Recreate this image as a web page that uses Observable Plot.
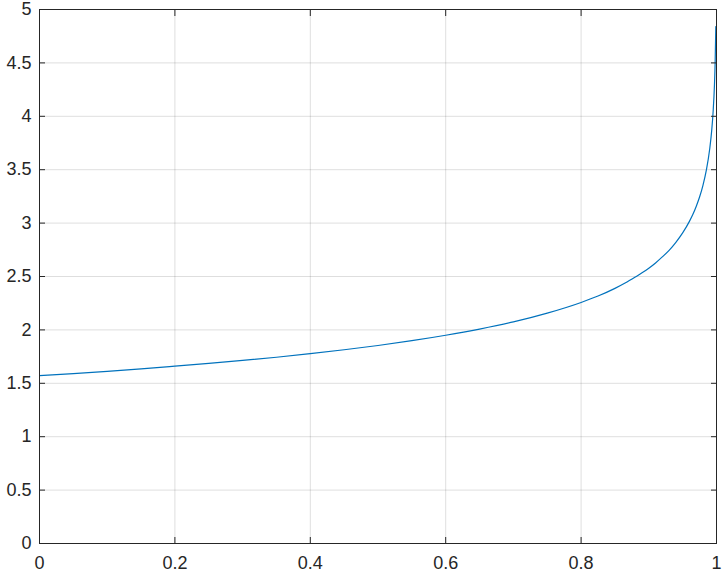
<!DOCTYPE html>
<html>
<head>
<meta charset="utf-8">
<script src="https://cdn.jsdelivr.net/npm/d3@7"></script>
<script src="https://cdn.jsdelivr.net/npm/@observablehq/plot@0.6"></script>
<style>
  html, body { margin: 0; padding: 0; background: #fff; }
  #chart { width: 724px; height: 575px; }
</style>
</head>
<body>
<div id="chart"></div>
<script>
const xValues = [0, 0.05, 0.1, 0.15, 0.2, 0.25, 0.3, 0.35, 0.4, 0.45, 0.5, 0.55, 0.6, 0.65, 0.7, 0.75, 0.8, 0.825, 0.85, 0.865, 0.88, 0.89, 0.9, 0.91, 0.92, 0.93, 0.94, 0.95, 0.96, 0.965, 0.97, 0.975, 0.98, 0.985, 0.99, 0.993, 0.995, 0.997, 0.998, 0.999];
const yValues = [1.571, 1.591, 1.612, 1.635, 1.660, 1.686, 1.714, 1.744, 1.778, 1.814, 1.854, 1.899, 1.950, 2.008, 2.075, 2.157, 2.257, 2.317, 2.389, 2.439, 2.495, 2.534, 2.578, 2.627, 2.684, 2.745, 2.820, 2.908, 3.016, 3.080, 3.156, 3.244, 3.354, 3.496, 3.696, 3.873, 4.042, 4.296, 4.498, 4.841];
const xTicks = [0, 0.2, 0.4, 0.6, 0.8, 1];
const xTickLabels = ["0", "0.2", "0.4", "0.6", "0.8", "1"];
const yTicks = [0, 0.5, 1, 1.5, 2, 2.5, 3, 3.5, 4, 4.5, 5];
const yTickLabels = ["0", "0.5", "1", "1.5", "2", "2.5", "3", "3.5", "4", "4.5", "5"];

const data = xValues.map((x, i) => ({x, y: yValues[i]}));
const axisColor = "#262626";

const chart = Plot.plot({
  width: 724,
  height: 575,
  marginLeft: 39,
  marginRight: 8,
  marginTop: 9,
  marginBottom: 32,
  style: {fontFamily: "'Liberation Sans', Arial, sans-serif", fontSize: "18px", color: axisColor, background: "#fff"},
  x: {domain: [0, 1]},
  y: {domain: [0, 5]},
  marks: [
    Plot.gridX(xTicks, {stroke: "#000", strokeOpacity: 0.13}),
    Plot.gridY(yTicks, {stroke: "#000", strokeOpacity: 0.13}),
    Plot.line(data, {x: "x", y: "y", stroke: "#0072BD", strokeWidth: 1.2, curve: "monotone-x"}),
    Plot.frame({stroke: axisColor, strokeWidth: 1}),
    Plot.axisX(xTicks, {anchor: "bottom", tickSize: 0, tickPadding: 13, tickFormat: (d, i) => xTickLabels[i], label: null, fontSize: 18, fill: axisColor}),
    Plot.axisX(xTicks, {anchor: "bottom", tickSize: -6, text: null, label: null, stroke: axisColor}),
    Plot.axisX(xTicks, {anchor: "top", tickSize: -6, text: null, label: null, stroke: axisColor}),
    Plot.axisY(yTicks, {anchor: "left", tickSize: 0, tickPadding: 8, tickFormat: (d, i) => yTickLabels[i], label: null, fontSize: 18, fill: axisColor}),
    Plot.axisY(yTicks, {anchor: "left", tickSize: -6, text: null, label: null, stroke: axisColor}),
    Plot.axisY(yTicks, {anchor: "right", tickSize: -6, text: null, label: null, stroke: axisColor})
  ]
});
document.getElementById("chart").appendChild(chart);
</script>
</body>
</html>
